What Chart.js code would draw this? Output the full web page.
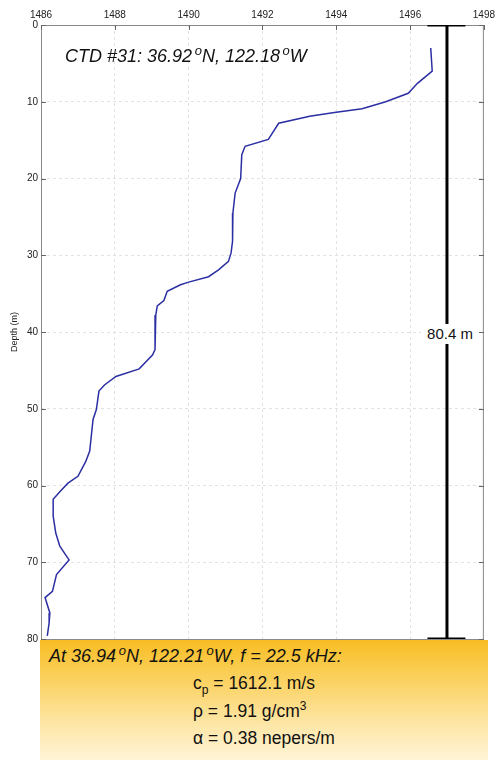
<!DOCTYPE html>
<html><head><meta charset="utf-8">
<script src="https://cdn.jsdelivr.net/npm/chart.js@4/dist/chart.umd.min.js"></script>
<style>
body{margin:0;background:#fff;font-family:"Liberation Sans",Arial,sans-serif;}
#wrap{position:relative;width:499px;height:760px;overflow:hidden;background:#fff}
#c{position:absolute;left:0;top:0}
.t{position:absolute;white-space:nowrap;line-height:1;color:#111}
.it{font-style:italic}
.sup{font-size:13px;position:relative;top:-7px}
.sub{font-size:12px;position:relative;top:5px}
.sup2{font-size:12px;position:relative;top:-7px}
#box{position:absolute;left:40px;top:640px;width:448px;height:120px;
  background:linear-gradient(to bottom,#f8bd24 0%,#fbd263 35%,#fde6a6 70%,#fff4d6 100%)}
#lab{position:absolute;left:421px;top:324px;width:58px;height:20px;background:#fff;font-size:15px;text-align:center;line-height:20px;color:#111}
</style></head>
<body>
<div id="wrap">
<canvas id="c" width="499" height="760"></canvas>
<div class="t it" style="left:65px;top:47px;font-size:18px">CTD #31: 36.92<span class="sup">&thinsp;o</span>N, 122.18<span class="sup">&thinsp;o</span>W</div>
<div id="lab">80.4 m</div>
<div id="box">
  <div class="t it" style="left:9px;top:7px;font-size:18px">At 36.94<span class="sup">&thinsp;o</span>N, 122.21<span class="sup">&thinsp;o</span>W, f = 22.5 kHz:</div>
  <div class="t" style="left:153px;top:35px;font-size:17.5px">c<span class="sub">p</span> = 1612.1 m/s</div>
  <div class="t" style="left:153px;top:63px;font-size:17.5px">ρ = 1.91 g/cm<span class="sup2">3</span></div>
  <div class="t" style="left:153px;top:90px;font-size:17.5px">α = 0.38 nepers/m</div>
</div>
</div>
<script>
// Sound speed profile (m/s) vs depth (m)
const depthM = [3.0, 6.0, 7.6, 8.9, 10.0, 10.9, 11.4, 11.9, 12.8, 14.9, 15.8, 16.9, 20.0, 21.9, 24.5, 28.2, 29.7, 30.8, 31.9, 32.8, 33.5, 33.85, 34.7, 35.9, 36.6, 37.8, 42.3, 43.0, 44.8, 45.8, 46.9, 47.7, 50.1, 51.4, 55.5, 56.9, 58.8, 59.7, 60.8, 61.8, 64.0, 66.2, 67.9, 69.7, 71.6, 73.8, 74.6, 76.6, 77.9, 79.6];
const soundSpeed = [1496.56, 1496.6, 1496.2, 1495.95, 1495.34, 1494.7, 1493.95, 1493.28, 1492.44, 1492.16, 1491.53, 1491.44, 1491.41, 1491.26, 1491.2, 1491.19, 1491.15, 1491.08, 1490.81, 1490.54, 1490.0, 1489.78, 1489.42, 1489.33, 1489.15, 1489.11, 1489.09, 1489.02, 1488.66, 1488.03, 1487.72, 1487.57, 1487.5, 1487.41, 1487.32, 1487.21, 1487.0, 1486.73, 1486.51, 1486.33, 1486.33, 1486.4, 1486.51, 1486.76, 1486.42, 1486.31, 1486.11, 1486.24, 1486.22, 1486.17];
const xTickLabels = [1486, 1488, 1490, 1492, 1494, 1496, 1498];
const yTickLabels = [0, 10, 20, 30, 40, 50, 60, 70, 80];
// Water depth scale bar (80.4 m)
const barSpeed = [1497.0, 1497.0];
const barDepth = [0, 80];
const capSpeed = [1496.47, 1497.5];

const profile = depthM.map((d, i) => ({x: soundSpeed[i], y: d}));
const bar = barDepth.map((d, i) => ({x: barSpeed[i], y: d}));
const capTop = capSpeed.map(s => ({x: s, y: barDepth[0]}));
const capBot = capSpeed.map(s => ({x: s, y: barDepth[1]}));

const frame = {
  id: 'frame',
  beforeDatasetsDraw(chart) {
    const {ctx, chartArea: a, scales: {x, y}} = chart;
    ctx.save();
    ctx.strokeStyle = '#8a8a8a';
    ctx.lineWidth = 1;
    ctx.strokeRect(a.left + 0.5, a.top + 0.5, a.right - a.left - 1, a.bottom - a.top);
    ctx.strokeStyle = '#666';
    ctx.beginPath();
    yTickLabels.forEach(v => {
      const py = Math.round(y.getPixelForValue(v)) + 0.5;
      ctx.moveTo(a.left, py); ctx.lineTo(a.left + 5, py);
      ctx.moveTo(a.right - 5, py); ctx.lineTo(a.right, py);
    });
    xTickLabels.forEach(v => {
      const px = Math.round(x.getPixelForValue(v)) + 0.5;
      ctx.moveTo(px, a.top); ctx.lineTo(px, a.top + 5);
    });
    ctx.stroke();
    ctx.restore();
  }
};

new Chart(document.getElementById('c'), {
  type: 'scatter',
  data: {
    datasets: [
      {data: profile, showLine: true, borderColor: '#2b2fa3', borderWidth: 1.5, pointRadius: 0, tension: 0},
      {data: bar, showLine: true, borderColor: '#000', borderWidth: 3, pointRadius: 0},
      {data: capTop, showLine: true, borderColor: '#000', borderWidth: 3, pointRadius: 0},
      {data: capBot, showLine: true, borderColor: '#000', borderWidth: 3, pointRadius: 0}
    ]
  },
  options: {
    responsive: false, animation: false, devicePixelRatio: 1,
    layout: {padding: {left: 0, top: 0, right: 11, bottom: 121}},
    plugins: {legend: {display: false}, tooltip: {enabled: false}},
    scales: {
      x: {
        type: 'linear', position: 'top', min: 1486, max: 1498,
        afterBuildTicks: s => { s.ticks = xTickLabels.map(v => ({value: v})); },
        afterFit: s => { s.height = 25; },
        ticks: {padding: 4, color: '#222', font: {size: 10, family: 'Liberation Sans'}, maxRotation: 0, callback: v => String(v)},
        grid: {color: '#e2e2e2', drawTicks: false},
        border: {display: false, dash: [3, 3]}
      },
      y: {
        type: 'linear', reverse: true, min: 0, max: 80,
        afterBuildTicks: s => { s.ticks = yTickLabels.map(v => ({value: v})); },
        afterFit: s => { s.width = 41; },
        ticks: {padding: 3, color: '#222', font: {size: 10, family: 'Liberation Sans'}, callback: v => String(v)},
        grid: {color: '#e2e2e2', drawTicks: false},
        border: {display: false, dash: [3, 3]},
        title: {display: true, text: 'Depth (m)', color: '#222', font: {size: 9, family: 'Liberation Sans'}, padding: {top: 9, bottom: 0}}
      }
    }
  },
  plugins: [frame]
});
</script>
</body></html>
